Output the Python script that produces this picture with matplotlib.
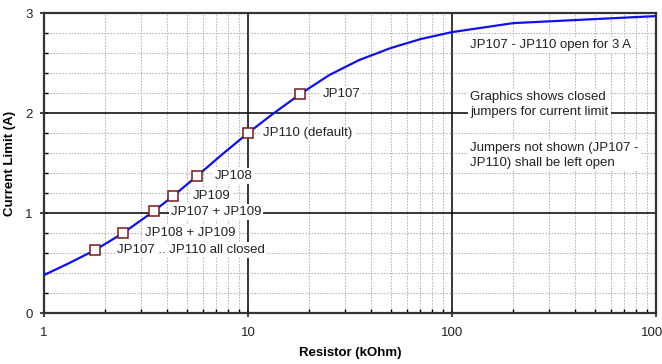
import numpy as np
import matplotlib
matplotlib.use('Agg')
import matplotlib.pyplot as plt
from matplotlib.ticker import LogLocator, MultipleLocator, FixedLocator, NullFormatter

plt.rcParams['font.family'] = ['Liberation Sans', 'DejaVu Sans']

# curve (resistor kOhm -> current limit A)
r_curve = [1, 1.3, 1.78, 2.44, 3.46, 4.29, 5.62, 7.5, 10, 13, 18, 25, 35, 50, 70, 100, 200, 500, 1000]
i_curve = [0.38, 0.49, 0.63, 0.80, 1.02, 1.17, 1.37, 1.59, 1.80, 1.98, 2.19, 2.38, 2.53, 2.65, 2.74, 2.81, 2.90, 2.94, 2.97]

# jumper settings (marked points)
jp_r = [1.78, 2.44, 3.46, 4.29, 5.62, 10, 18]
jp_i = [0.63, 0.80, 1.02, 1.17, 1.37, 1.80, 2.19]
jp_labels = ['JP107 .. JP110 all closed', 'JP108 + JP109', 'JP107 + JP109',
             'JP109', 'JP108', 'JP110 (default)', 'JP107']

notes = ['JP107 - JP110 open for 3 A',
         'Graphics shows closed\njumpers for current limit',
         'Jumpers not shown (JP107 -\nJP110) shall be left open']

fig = plt.figure(figsize=(6.62, 3.64), dpi=100)
ax = fig.add_axes([0.0665, 0.140, 0.9245, 0.824])

ax.set_xscale('log')
ax.set_xlim(1, 1000)
ax.set_ylim(0, 3)

ax.xaxis.set_major_locator(FixedLocator([1, 10, 100, 1000]))
ax.xaxis.set_minor_locator(LogLocator(base=10, subs=np.arange(2, 10)))
ax.xaxis.set_minor_formatter(NullFormatter())
ax.set_xticklabels(['1', '10', '100', '1000'])
ax.yaxis.set_major_locator(MultipleLocator(1))
ax.yaxis.set_minor_locator(MultipleLocator(0.2))

ax.grid(True, which='major', color='black', lw=1.1, zorder=0)
ax.grid(True, which='minor', color='#aaaaaa', lw=0.8, ls=(0, (1.2, 1.5)), zorder=0)
ax.set_axisbelow(True)

for s in ax.spines.values():
    s.set_linewidth(1.6)
    s.set_color('#333333')

ax.tick_params(which='major', direction='inout', length=6, width=1.2, labelsize=9.5, colors='#222222')
ax.tick_params(which='minor', direction='in', length=3, width=1)
ax.tick_params(axis='x', pad=7)
ax.tick_params(axis='y', pad=5)

ax.plot(r_curve, i_curve, color='#1010f0', lw=1.6, zorder=3)
ax.plot(jp_r, jp_i, ls='none', marker='s', ms=6.5, mfc='white', mec='#7a1818', mew=1.1, zorder=4)

# label offsets in points from each marker
offs = [(16, 0), (16, 0), (12, -1), (14, 0), (13, 0), (11, 0), (16, 0)]
box = dict(boxstyle='square,pad=0.15', fc='white', ec='none')
for r, i, lbl, o in zip(jp_r, jp_i, jp_labels, offs):
    ax.annotate(lbl, (r, i), xytext=o, textcoords='offset points',
                fontsize=9.5, va='center', ha='left', color='#222222', bbox=box, zorder=5)

note_y = [2.68, 2.085, 1.575]
for y, t in zip(note_y, notes):
    ax.text(123, y, t, fontsize=9.5, va='center', ha='left', color='#222222',
            linespacing=1.35, bbox=box, zorder=5)

ax.set_xlabel('Resistor (kOhm)', fontsize=9.5, fontweight='bold', labelpad=6)
ax.set_ylabel('Current Limit (A)', fontsize=9.5, fontweight='bold', labelpad=7)

fig.savefig('out.png', dpi=100)
